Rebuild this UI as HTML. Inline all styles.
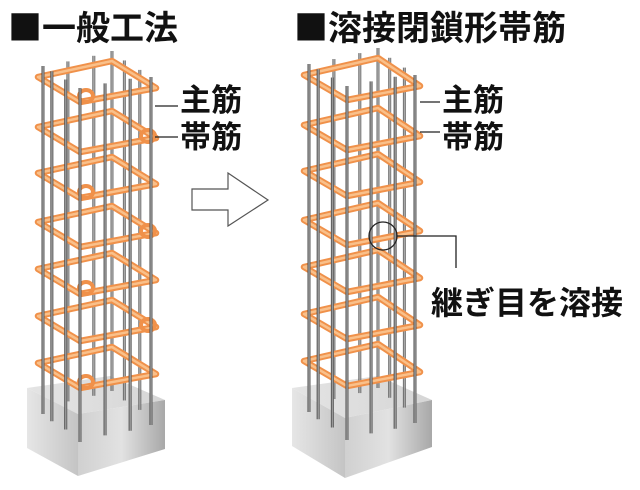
<!DOCTYPE html>
<html><head><meta charset="utf-8"><style>
body{margin:0;background:#fff}
svg{display:block}
text{font-family:"Liberation Sans","Noto Sans CJK JP",sans-serif;fill:#111;font-weight:bold}
.sq{font-family:"Noto Sans CJK JP",sans-serif}
</style></head><body>
<svg id="s" width="640" height="490" viewBox="0 0 640 490" xmlns="http://www.w3.org/2000/svg">
<defs>
<linearGradient id="gl" x1="0" x2="1"><stop offset="0" stop-color="#e6e6e6"/><stop offset="1" stop-color="#c4c4c4"/></linearGradient>
<linearGradient id="gf" x1="0" x2="1"><stop offset="0" stop-color="#d0d0d0"/><stop offset="0.5" stop-color="#e2e2e2"/><stop offset="1" stop-color="#a8a8a8"/></linearGradient>
<linearGradient id="gt" x1="0" x2="1"><stop offset="0" stop-color="#e4e4e4"/><stop offset="1" stop-color="#d6d6d6"/></linearGradient>
<linearGradient id="bar" x1="0" x2="1"><stop offset="0" stop-color="#333"/><stop offset="0.5" stop-color="#aaa"/><stop offset="1" stop-color="#444"/></linearGradient>
</defs>
<text x="8" y="40" font-size="34"><tspan class="sq">■</tspan>一般工法</text>
<text x="294" y="40" font-size="34"><tspan class="sq">■</tspan>溶接閉鎖形帯筋</text>
<path d="M192 189 H228 V173 L268 200 L228 226 V210 H192 Z" fill="#fff" stroke="#555" stroke-width="1.2"/>
<g id="c1"></g><g id="c2"></g>
<g stroke="#222" stroke-width="1.3" fill="none">
<line x1="155" y1="106" x2="178" y2="106"/><line x1="155" y1="137" x2="178" y2="137"/>
<line x1="420" y1="102" x2="440" y2="102"/><line x1="420" y1="132" x2="440" y2="132"/>
<circle cx="383" cy="236" r="14"/><polyline points="397,236 456,236 456,268"/>
</g>
<text x="180" y="111" font-size="31">主筋</text>
<text x="180" y="148" font-size="31">帯筋</text>
<text x="442" y="111" font-size="31">主筋</text>
<text x="442" y="148" font-size="31">帯筋</text>
<text x="431" y="314" font-size="32">継ぎ目を溶接</text>
</svg>
<script>
function col(id,L,B,R,F,levels,blk,knots){
 var g=document.getElementById(id),h='';
 var [bl,bf,br,bb,hgt]=blk;
 h+=`<polygon points="${bl[0]},${bl[1]} ${bb[0]},${bb[1]} ${br[0]},${br[1]} ${bf[0]},${bf[1]}" fill="url(#gt)"/>`;
 h+=`<polygon points="${bl[0]},${bl[1]} ${bf[0]},${bf[1]} ${bf[0]},${bf[1]+hgt} ${bl[0]},${bl[1]+hgt-2}" fill="url(#gl)"/>`;
 h+=`<polygon points="${bf[0]},${bf[1]} ${br[0]},${br[1]} ${br[0]},${br[1]+hgt-13} ${bf[0]},${bf[1]+hgt}" fill="url(#gf)"/>`;
 var top=levels[0],bot=levels[levels.length-1];
 function bars(pts,back){pts.forEach(p=>{var y0=p[1]-14,y1=p[1]+(bot-top)+40+p[2];
  h+=`<rect x="${p[0]-1.5}" y="${y0}" width="3" height="${y1-y0}" fill="url(#bar)" opacity="${back?0.85:1}"/>`;});}
 function lerp(a,b,t){return [a[0]+(b[0]-a[0])*t,a[1]+(b[1]-a[1])*t];}
 var back=[],front=[];
 [0.35,0.7].forEach(t=>{var p=lerp(L,B,t);back.push([p[0]+4,p[1]+4,0]);p=lerp(B,R,t);back.push([p[0]-3,p[1]+4,0]);});
 back.push([B[0],B[1]+4,0]);
 front.push([L[0]+5,L[1]+3,8],[R[0]-5,R[1]+3,8],[F[0],F[1],14]);
 [0.33,0.66].forEach(t=>{var p=lerp(L,F,t);front.push([p[0],p[1],10]);p=lerp(F,R,t);front.push([p[0],p[1],12]);});
 bars(back,true);
 levels.forEach((y,i)=>{var d=y-top;
  var pts=[L,B,R,F].map(p=>p[0]+','+(p[1]+d)).join(' ');
  h+=`<polygon points="${pts}" fill="none" stroke="#f0914a" stroke-width="6.5" stroke-linejoin="round"/>`;
  h+=`<polygon points="${pts}" fill="none" stroke="#f9c08a" stroke-width="2.5" stroke-linejoin="round"/>`;
  if(knots){var k=knots[i];h+=`<ellipse cx="${k[0]}" cy="${k[1]+d}" rx="7" ry="6" fill="none" stroke="#f0914a" stroke-width="4"/>`;}
 });
 bars(front,false);
 g.innerHTML=h;
}
var lv=[0,50,96,145,192,239,286];
col('c1',[38,77],[112,61],[156,88],[80,102],lv.map(v=>77+v),[[27,388],[78,414],[165,400],[110,376],62],
 [[86,96],[148,86],[86,96],[148,86],[86,96],[148,86],[86,96]]);
col('c2',[304,75],[378,58],[420,86],[347,100],lv.map(v=>75+v),[[292,388],[345,418],[432,400],[378,376],60],null);
</script>
</body></html>
